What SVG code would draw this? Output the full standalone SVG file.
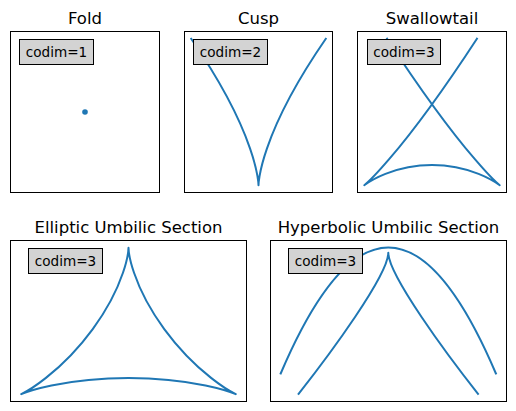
<svg xmlns="http://www.w3.org/2000/svg" width="516" height="411" viewBox="0 0 516 411">
<style>
  .ax { fill: #ffffff; stroke: #000000; stroke-width: 1; }
  .ttl { font-family: "DejaVu Sans", sans-serif; font-size: 16.5px; fill: #000000; text-anchor: middle; }
  .lbl { font-family: "DejaVu Sans", sans-serif; font-size: 13.6px; fill: #000000; text-anchor: middle; }
  .box { fill: #d3d3d3; stroke: #000000; stroke-width: 1; }
  .crv { fill: none; stroke: #1f77b4; stroke-width: 2; stroke-linecap: square; stroke-linejoin: round; vector-effect: non-scaling-stroke; }
</style>
<rect width="516" height="411" fill="#ffffff"/>

<g id="fold">
  <text class="ttl" x="85" y="24">Fold</text>
  <rect class="ax" x="10.5" y="31.5" width="149" height="161"/>
  <circle cx="85" cy="112" r="2.8" fill="#1f77b4"/>
  <rect class="box" x="19.5" y="39.5" width="74" height="25"/>
  <text class="lbl" x="56.5" y="56.5">codim=1</text>
</g>

<g id="cusp">
  <text class="ttl" x="258.5" y="24">Cusp</text>
  <rect class="ax" x="184.5" y="31.5" width="148" height="161"/>
  <path class="crv" d="M191.2,38.8 C258.5,136.4 258.5,185.2 258.5,185.2 C258.5,185.2 258.5,136.4 325.8,38.8"/>
  <rect class="box" x="193.5" y="39.5" width="74" height="25"/>
  <text class="lbl" x="230.5" y="56.5">codim=2</text>
</g>

<g id="swallowtail">
  <text class="ttl" x="432" y="24">Swallowtail</text>
  <rect class="ax" x="357.5" y="31.5" width="149" height="161"/>
  <path class="crv" transform="matrix(107.1,0,0,-134.9,432,164.96)" d="M0.41952,0.93588 C0.02769,0.45981 -0.23530,0.19509 -0.40033,0.04264 C-0.56537,-0.10982 -0.63246,-0.15 -0.63246,-0.15 C-0.63246,-0.15 -0.55339,-0.103125 -0.43481,-0.065625 C-0.31623,-0.028125 -0.15811,0 0,0 C0.15811,0 0.31623,-0.028125 0.43481,-0.065625 C0.55339,-0.103125 0.63246,-0.15 0.63246,-0.15 C0.63246,-0.15 0.56537,-0.10982 0.40033,0.04264 C0.23530,0.19509 -0.02769,0.45981 -0.41952,0.93588"/>
  <rect class="box" x="367.5" y="39.5" width="73" height="25"/>
  <text class="lbl" x="404" y="56.5">codim=3</text>
</g>

<g id="elliptic-umbilic">
  <text class="ttl" x="128.5" y="233">Elliptic Umbilic Section</text>
  <rect class="ax" x="10.5" y="240.5" width="236" height="161"/>
  <path class="crv" transform="matrix(41.28,0,0,-32.52,128.5,345.38)" d="M0,3 C0,3 0.0062,2.7089 0.1340,2.2321 C0.2618,1.7553 0.5169,1.1046 0.8660,0.5 C1.2151,-0.1046 1.6509,-0.6509 2,-1 C2.3491,-1.3491 2.5981,-1.5 2.5981,-1.5 C2.5981,-1.5 2.3428,-1.3599 1.8660,-1.2321 C1.3892,-1.1043 0.6981,-1 0,-1 C-0.6981,-1 -1.3892,-1.1043 -1.8660,-1.2321 C-2.3428,-1.3599 -2.5981,-1.5 -2.5981,-1.5 C-2.5981,-1.5 -2.3491,-1.3491 -2,-1 C-1.6509,-0.6509 -1.2151,-0.1046 -0.8660,0.5 C-0.5169,1.1046 -0.2618,1.7553 -0.1340,2.2321 C-0.0062,2.7089 0,3 0,3 Z"/>
  <rect class="box" x="28.5" y="248.5" width="74" height="25"/>
  <text class="lbl" x="65.5" y="265.7">codim=3</text>
</g>

<g id="hyperbolic-umbilic">
  <text class="ttl" x="388.5" y="233">Hyperbolic Umbilic Section</text>
  <rect class="ax" x="270.5" y="240.5" width="236" height="161"/>
  <path class="crv" d="M280.7,373.5 Q388.3,121.3 495.9,373.5"/>
  <path class="crv" d="M298.6,393.8 C330,354 388.3,275 388.3,252.8 C388.3,275 446.6,354 478,393.8"/>
  <rect class="box" x="288.5" y="248.5" width="74" height="25"/>
  <text class="lbl" x="325.5" y="265.7">codim=3</text>
</g>
</svg>
